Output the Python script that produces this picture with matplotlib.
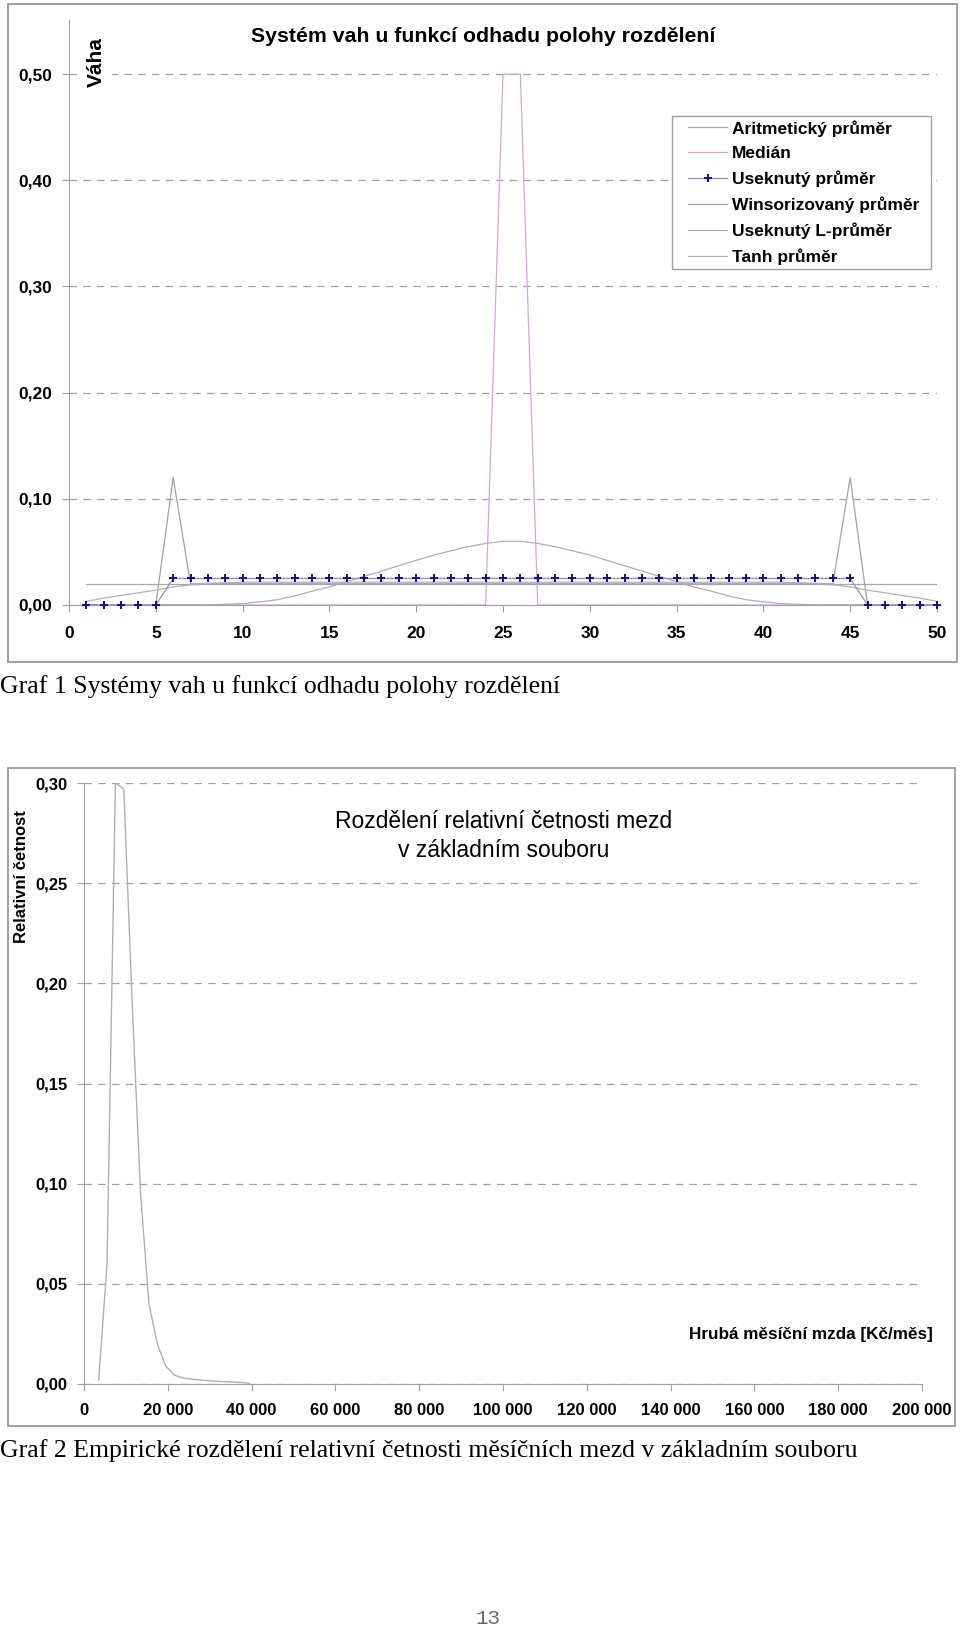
import matplotlib
matplotlib.use("Agg")
import matplotlib.pyplot as plt
from matplotlib.patches import Rectangle
from matplotlib.ticker import FuncFormatter

plt.rcParams['font.family'] = ['Liberation Sans', 'DejaVu Sans']

# --- Graf 1: vahy pro n = 50 ---
poradi = list(range(1, 51))

aritmeticky = [0.02, 0.02, 0.02, 0.02, 0.02, 0.02, 0.02, 0.02, 0.02, 0.02,
               0.02, 0.02, 0.02, 0.02, 0.02, 0.02, 0.02, 0.02, 0.02, 0.02,
               0.02, 0.02, 0.02, 0.02, 0.02, 0.02, 0.02, 0.02, 0.02, 0.02,
               0.02, 0.02, 0.02, 0.02, 0.02, 0.02, 0.02, 0.02, 0.02, 0.02,
               0.02, 0.02, 0.02, 0.02, 0.02, 0.02, 0.02, 0.02, 0.02, 0.02]

median = [0, 0, 0, 0, 0, 0, 0, 0, 0, 0,
          0, 0, 0, 0, 0, 0, 0, 0, 0, 0,
          0, 0, 0, 0, 0.5, 0.5, 0, 0, 0, 0,
          0, 0, 0, 0, 0, 0, 0, 0, 0, 0,
          0, 0, 0, 0, 0, 0, 0, 0, 0, 0]

useknuty = [0, 0, 0, 0, 0, 0.025, 0.025, 0.025, 0.025, 0.025,
            0.025, 0.025, 0.025, 0.025, 0.025, 0.025, 0.025, 0.025, 0.025, 0.025,
            0.025, 0.025, 0.025, 0.025, 0.025, 0.025, 0.025, 0.025, 0.025, 0.025,
            0.025, 0.025, 0.025, 0.025, 0.025, 0.025, 0.025, 0.025, 0.025, 0.025,
            0.025, 0.025, 0.025, 0.025, 0.025, 0, 0, 0, 0, 0]

winsor = [0, 0, 0, 0, 0, 0.12, 0.02, 0.02, 0.02, 0.02,
          0.02, 0.02, 0.02, 0.02, 0.02, 0.02, 0.02, 0.02, 0.02, 0.02,
          0.02, 0.02, 0.02, 0.02, 0.02, 0.02, 0.02, 0.02, 0.02, 0.02,
          0.02, 0.02, 0.02, 0.02, 0.02, 0.02, 0.02, 0.02, 0.02, 0.02,
          0.02, 0.02, 0.02, 0.02, 0.12, 0, 0, 0, 0, 0]

l_prumer = [0, 0, 0, 0, 0, 0, 0, 0.0002, 0.0006, 0.0013,
            0.003, 0.005, 0.0085, 0.013, 0.017, 0.022, 0.027, 0.032, 0.037, 0.042,
            0.047, 0.051, 0.055, 0.058, 0.060, 0.060, 0.058, 0.055, 0.051, 0.047,
            0.042, 0.037, 0.032, 0.027, 0.022, 0.017, 0.013, 0.0085, 0.005, 0.003,
            0.0013, 0.0006, 0.0002, 0, 0, 0, 0, 0, 0, 0]

tanh = [0.0035, 0.0065, 0.009, 0.0115, 0.014, 0.017, 0.019, 0.0205, 0.021, 0.0215,
        0.0215, 0.0215, 0.0215, 0.0215, 0.0215, 0.0215, 0.0215, 0.0215, 0.0215, 0.0215,
        0.0215, 0.0215, 0.0215, 0.0215, 0.0215, 0.0215, 0.0215, 0.0215, 0.0215, 0.0215,
        0.0215, 0.0215, 0.0215, 0.0215, 0.0215, 0.0215, 0.0215, 0.0215, 0.0215, 0.0215,
        0.0215, 0.021, 0.0205, 0.019, 0.017, 0.014, 0.0115, 0.009, 0.0065, 0.0035]

# --- Graf 2: relativni cetnosti mezd ---
mzda = [3500, 5500, 7500, 9500, 11500, 13500, 15500, 17500, 19500, 21500,
        23500, 25500, 27500, 29500, 31500, 33500, 35500, 37500, 39500]
cetnost = [0.002, 0.06, 0.300, 0.297, 0.19, 0.095, 0.04, 0.02, 0.009, 0.0045,
           0.003, 0.0025, 0.002, 0.0017, 0.0014, 0.0012, 0.001, 0.0008, 0.0003]

W, H = 960, 1627
fig = plt.figure(figsize=(W / 100, H / 100), dpi=100)

gridc = '#a0a0a0'
spinec = '#a0a0a0'

def fx(px):
    return px / W

def fy(py):
    return 1 - py / H

def ramecek(x0, y0, x1, y1, color, lw, fill=False):
    fig.patches.append(Rectangle((fx(x0), fy(y1)), fx(x1 - x0), (y1 - y0) / H,
                                 transform=fig.transFigure, fill=fill, facecolor='white',
                                 edgecolor=color, linewidth=lw, zorder=2))

# vnejsi ramecky grafu
ramecek(8, 4, 957, 662, '#909090', 1.2)
ramecek(8, 768, 955, 1426, '#909090', 1.2)

comma = FuncFormatter(lambda v, p: f"{v:.2f}".replace('.', ','))

# ---------- Graf 1 ----------
ax1 = fig.add_axes([fx(69), fy(605), fx(937 - 69), (605 - 20) / H])
ax1.plot(poradi, aritmeticky, color='#a8a8a8', lw=0.9, label='Aritmetický průměr')
ax1.plot(poradi, median, color='#d4a6d4', lw=0.9, label='Medián')
ax1.plot(poradi, useknuty, color='#9090c8', lw=0.9, marker='+', ms=6, mew=1.4,
         mec='#10108a', label='Useknutý průměr', clip_on=False, zorder=5)
ax1.plot(poradi, winsor, color='#a0a0a8', lw=0.9, label='Winsorizovaný průměr')
ax1.plot(poradi, l_prumer, color='#b0a8c4', lw=0.9, label='Useknutý L-průměr')
ax1.plot(poradi, tanh, color='#b8b0b4', lw=0.9, label='Tanh průměr')

ax1.set_xlim(0, 50)
ax1.set_ylim(0, 0.551)
ax1.set_xticks(range(0, 51, 5))
ax1.set_yticks([0, 0.1, 0.2, 0.3, 0.4, 0.5])
ax1.yaxis.set_major_formatter(comma)
ax1.grid(axis='y', color=gridc, linestyle=(0, (6, 5)), linewidth=0.9)
ax1.set_axisbelow(True)
for s in ['top', 'right']:
    ax1.spines[s].set_visible(False)
for s in ['left', 'bottom']:
    ax1.spines[s].set_color(spinec)
ax1.tick_params(colors=spinec, length=5, labelcolor='black', labelsize=12.5)
ax1.tick_params(axis='x', pad=10)
ax1.tick_params(axis='y', pad=7)
for t in ax1.get_xticklabels() + ax1.get_yticklabels():
    t.set_fontweight('bold')

ax1.text(0.032, 0.97, 'Váha', transform=ax1.transAxes, rotation=90, ha='center', va='top',
         fontsize=15, fontweight='bold',
         bbox=dict(facecolor='white', edgecolor='none', pad=4))

fig.text(fx(483), fy(36), 'Systém vah u funkcí odhadu polohy rozdělení', ha='center', va='center',
         fontsize=15.3, fontweight='bold')

# legenda: bily ramecek zvlast, polozky bez ramu
ramecek(672, 116, 931, 269, '#a0a0a0', 1.0, fill=True)
leg = fig.legend(loc='upper left', bbox_to_anchor=(fx(688), fy(120)), frameon=False,
                 numpoints=1, prop=dict(weight='bold', size=12.5), handlelength=2.25,
                 handletextpad=0.3, labelspacing=0.54, borderpad=0, borderaxespad=0)
leg.set_zorder(6)

fig.text(0, fy(687), 'Graf 1 Systémy vah u funkcí odhadu polohy rozdělení', ha='left', va='center',
         fontsize=18.5, family=['Liberation Serif', 'DejaVu Serif'])

# ---------- Graf 2 ----------
ax2 = fig.add_axes([fx(84), fy(1384), fx(922 - 84), (1384 - 783) / H])
ax2.plot(mzda, cetnost, color='#b0b0b0', lw=1.0)
ax2.set_xlim(0, 200000)
ax2.set_ylim(0, 0.30)
ax2.set_xticks(range(0, 200001, 20000))
ax2.set_yticks([0, 0.05, 0.1, 0.15, 0.2, 0.25, 0.3])
ax2.yaxis.set_major_formatter(comma)
ax2.xaxis.set_major_formatter(FuncFormatter(lambda v, p: f"{int(v):,}".replace(',', ' ')))
ax2.grid(axis='y', color=gridc, linestyle=(0, (6, 5)), linewidth=0.9)
ax2.set_axisbelow(True)
for s in ['top', 'right']:
    ax2.spines[s].set_visible(False)
for s in ['left', 'bottom']:
    ax2.spines[s].set_color(spinec)
ax2.tick_params(colors=spinec, length=5, labelcolor='black', labelsize=12)
ax2.tick_params(axis='x', pad=9)
ax2.tick_params(axis='y', pad=7)
for t in ax2.get_xticklabels() + ax2.get_yticklabels():
    t.set_fontweight('bold')

fig.text(fx(22), fy(877), 'Relativní četnost', rotation=90, ha='center', va='center',
         fontsize=12, fontweight='bold')
fig.text(fx(504), fy(836), 'Rozdělení relativní četnosti mezd\nv základním souboru',
         ha='center', va='center', fontsize=16.5, linespacing=1.3)
fig.text(fx(933), fy(1335), 'Hrubá měsíční mzda [Kč/měs]', ha='right', va='center',
         fontsize=12.3, fontweight='bold')

fig.text(0, fy(1451), 'Graf 2 Empirické rozdělení relativní četnosti měsíčních mezd v základním souboru',
         ha='left', va='center', fontsize=18.5, family=['Liberation Serif', 'DejaVu Serif'])

fig.text(fx(488), fy(1618), '13', ha='center', va='center', fontsize=15, color='#666666',
         family=['Liberation Mono', 'DejaVu Sans Mono'])

fig.savefig('out.png', dpi=100)
